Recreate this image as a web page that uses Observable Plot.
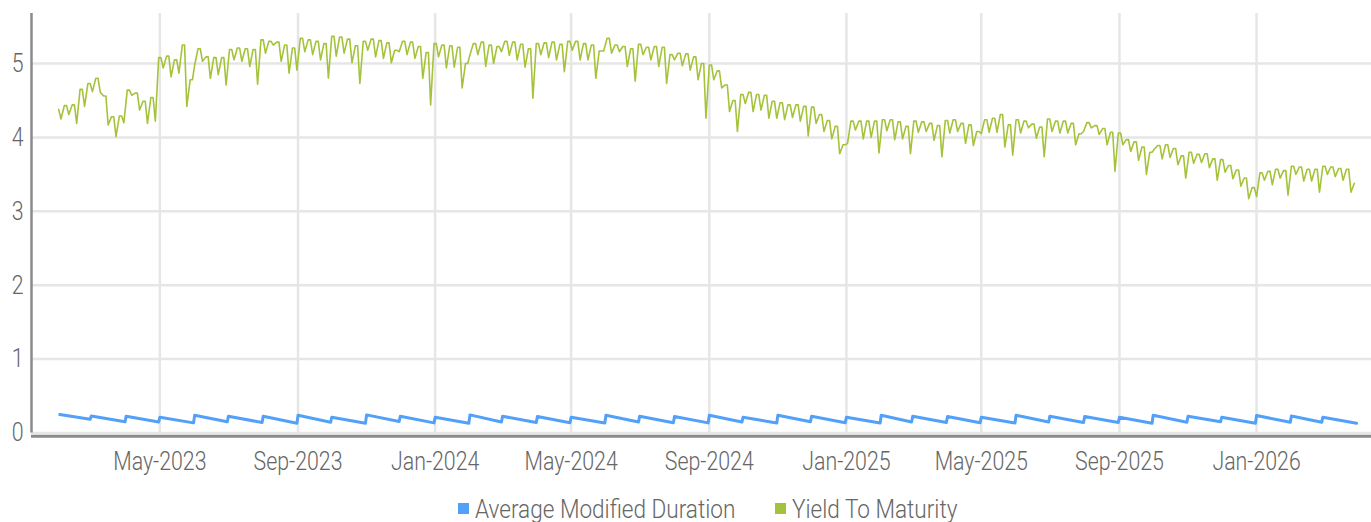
<!DOCTYPE html>
<html><head><meta charset="utf-8">
<script src="https://cdn.jsdelivr.net/npm/d3@7"></script>
<script src="https://cdn.jsdelivr.net/npm/@observablehq/plot@0.6"></script>
<style>
body{margin:0;background:#fff;}
#chart{position:relative;width:1371px;height:522px;font-family:Roboto,'Liberation Sans',sans-serif;font-weight:300;color:#666;}
#legend{position:absolute;top:496px;left:458px;display:flex;align-items:flex-start;font-size:26px;line-height:26px;white-space:nowrap;}
#legend .sw{width:11px;height:11px;margin-top:7px;margin-right:6px;flex:none;}
#legend .item{display:flex;align-items:flex-start;}
#legend .tx{display:inline-block;transform:scaleX(0.868);transform-origin:0 0;}
</style></head>
<body><div id="chart"></div>
<script>
// ---- data ----
const yTicks = [0, 1, 2, 3, 4, 5];
const xTickDates = ["2023-05-01","2023-09-01","2024-01-01","2024-05-01","2024-09-01","2025-01-01","2025-05-01","2025-09-01","2026-01-01"];
const seriesNames = ["Average Modified Duration", "Yield To Maturity"];
const seriesColors = ["#53a0f8", "#a5c33a"];

// Average Modified Duration: value at start and end of each month
const durMonths = ["2023-02","2023-03","2023-04","2023-05","2023-06","2023-07","2023-08","2023-09","2023-10","2023-11","2023-12",
  "2024-01","2024-02","2024-03","2024-04","2024-05","2024-06","2024-07","2024-08","2024-09","2024-10","2024-11","2024-12",
  "2025-01","2025-02","2025-03","2025-04","2025-05","2025-06","2025-07","2025-08","2025-09","2025-10","2025-11","2025-12",
  "2026-01","2026-02","2026-03"];
const durStartVals = [0.250,0.231,0.226,0.213,0.240,0.226,0.227,0.240,0.213,0.245,0.227,
  0.213,0.245,0.227,0.222,0.213,0.240,0.227,0.222,0.240,0.213,0.240,0.227,
  0.213,0.240,0.227,0.222,0.213,0.240,0.227,0.222,0.213,0.240,0.227,0.213,
  0.236,0.231,0.213];
const durEndVals = [0.186,0.151,0.149,0.137,0.151,0.142,0.133,0.146,0.133,0.155,0.137,
  0.133,0.150,0.142,0.140,0.135,0.150,0.140,0.137,0.148,0.135,0.152,0.140,
  0.135,0.150,0.142,0.140,0.135,0.150,0.142,0.142,0.133,0.146,0.151,0.133,
  0.146,0.146,0.133];

// Yield To Maturity: weekly level and weekly dip
const ytmStart = "2023-01-31";
const ytmFirstDip = "2023-02-02";
const ytmLevel = [4.38,4.43,4.44,4.65,4.73,4.80,4.56,4.28,4.29,4.64,
  4.60,4.49,4.54,5.08,5.10,5.05,5.25,4.78,5.20,5.09,
  5.08,5.08,5.19,5.21,5.20,5.19,5.32,5.30,5.29,5.25,
  5.21,5.34,5.32,5.30,5.27,5.37,5.36,5.33,5.24,5.30,
  5.33,5.31,5.28,5.18,5.30,5.29,5.23,5.15,5.27,5.25,
  5.24,5.22,5.00,5.27,5.29,5.25,5.23,5.30,5.29,5.26,
  5.20,5.27,5.28,5.29,5.26,5.30,5.30,5.27,5.25,5.17,
  5.34,5.25,5.23,5.20,5.26,5.22,5.23,5.22,5.12,5.14,
  5.13,5.09,5.00,4.98,4.90,4.71,4.50,4.58,4.61,4.58,
  4.57,4.49,4.47,4.44,4.44,4.42,4.41,4.31,4.23,4.15,
  3.90,4.22,4.22,4.22,4.22,4.24,4.24,4.21,4.15,4.22,
  4.21,4.19,4.16,4.23,4.24,4.19,4.17,4.08,4.24,4.26,
  4.31,4.17,4.24,4.22,4.18,4.14,4.25,4.22,4.22,4.19,
  4.05,4.20,4.16,4.12,4.07,4.06,3.97,3.94,3.87,3.80,
  3.89,3.90,3.85,3.75,3.80,3.77,3.78,3.71,3.70,3.62,
  3.56,3.45,3.32,3.52,3.54,3.57,3.55,3.61,3.60,3.57,
  3.57,3.61,3.60,3.58,3.57];
const ytmDip = [4.25,4.31,4.19,4.42,4.62,4.61,4.17,4.01,4.20,4.57,
  4.37,4.19,4.22,4.94,4.82,4.87,4.42,4.98,5.03,4.80,
  4.85,4.71,5.05,5.03,4.96,4.72,5.14,5.25,5.03,4.87,
  4.91,5.16,5.12,5.05,4.80,5.10,5.14,5.01,4.73,5.18,
  5.09,5.07,5.01,5.16,5.12,5.07,4.80,4.44,5.09,4.94,
  4.95,4.67,5.12,5.12,4.96,5.00,5.16,5.11,5.05,4.95,
  4.53,5.12,5.08,5.05,4.89,5.18,5.05,5.05,4.80,5.17,
  5.14,5.16,4.96,4.76,5.12,5.05,4.96,4.73,5.05,4.97,
  4.91,4.78,4.26,4.78,4.67,4.35,4.08,4.46,4.35,4.37,
  4.26,4.26,4.24,4.27,4.22,4.02,4.19,4.08,3.98,3.78,
  3.92,4.10,3.98,4.00,3.79,4.09,3.97,3.98,3.78,4.07,
  4.08,3.96,3.74,4.06,4.08,3.92,3.89,4.05,4.07,4.07,
  3.87,3.76,4.06,4.13,3.99,3.74,4.08,4.06,4.06,3.90,
  4.08,4.13,4.04,3.90,3.54,3.90,3.81,3.69,3.50,3.84,
  3.71,3.73,3.63,3.45,3.65,3.66,3.59,3.42,3.53,3.44,
  3.34,3.17,3.20,3.42,3.36,3.45,3.22,3.50,3.41,3.41,
  3.26,3.50,3.47,3.42,3.26];
const ytmLastDate = "2026-03-29";
const ytmLastValue = 3.38;

// ---- build tables ----
const utc = s => new Date(s + "T00:00:00Z");
const durData = [];
durMonths.forEach((m, i) => {
  const start = utc(m + "-01");
  const end = d3.utcDay.offset(d3.utcMonth.offset(start, 1), -1);
  durData.push({date: start, value: durStartVals[i]});
  durData.push({date: end, value: durEndVals[i]});
});
const ytmData = [];
const firstDip = utc(ytmFirstDip), startD = utc(ytmStart);
const nW = Math.min(ytmLevel.length, ytmDip.length);
for (let i = 0; i < nW; i++) {
  const dip = d3.utcDay.offset(firstDip, 7 * i);
  let a = d3.utcDay.offset(dip, -4);
  let b = d3.utcDay.offset(dip, -2);
  if (a < startD) a = startD;
  if (b < startD) b = startD;
  ytmData.push({date: a, value: ytmLevel[i]});
  ytmData.push({date: b, value: ytmLevel[i]});
  ytmData.push({date: dip, value: ytmDip[i]});
}
ytmData.push({date: utc(ytmLastDate), value: ytmLastValue});

const xTicks = xTickDates.map(utc);
const x0 = new Date("2023-01-06T19:00:00Z"), x1 = new Date("2026-04-13T07:00:00Z");
const yTop = 5.677;
const font = "Roboto,'Liberation Sans',sans-serif";

const chart = Plot.plot({
  width: 1371, height: 490,
  marginLeft: 31, marginRight: 0, marginTop: 13, marginBottom: 53.5,
  insetBottom: 4,
  style: {fontFamily: font, fontSize: "26px", fontWeight: 300, color: "#666", background: "#fff", overflow: "visible"},
  x: {type: "utc", domain: [x0, x1]},
  y: {domain: [0, yTop]},
  marks: [
    Plot.ruleY(yTicks, {stroke: "#e6e6e6", strokeWidth: 2.5}),
    Plot.ruleX(xTicks, {y1: 0, y2: yTop, stroke: "#e6e6e6", strokeWidth: 2.5}),
    Plot.ruleX([x0], {y1: 0, y2: yTop, stroke: "#8a8a8a", strokeWidth: 2.5}),
    Plot.ruleY([-0.045], {stroke: "#8a8a8a", strokeWidth: 3}),
    Plot.axisY({ticks: yTicks, tickSize: 0, tickPadding: 8, fontSize: 26, fill: "#666", tickFormat: d3.format("d"), label: null}),
    Plot.axisX({ticks: xTicks, tickSize: 0, tickPadding: 15, fontSize: 26, fill: "#666", tickFormat: d3.utcFormat("%b-%Y"), label: null}),
    Plot.line(durData, {x: "date", y: "value", stroke: seriesColors[0], strokeWidth: 3}),
    Plot.line(ytmData, {x: "date", y: "value", stroke: seriesColors[1], strokeWidth: 1.6})
  ]
});
const root = document.getElementById("chart");
root.appendChild(chart);
// condense tick label glyphs horizontally (narrow face), keeping their anchors
chart.querySelectorAll('g[aria-label$="tick label"] text').forEach(t => {
  const L = t.getComputedTextLength();
  if (L > 0) {
    t.setAttribute("textLength", (L * 0.82).toFixed(2));
    t.setAttribute("lengthAdjust", "spacingAndGlyphs");
  }
});
const legend = document.createElement("div");
legend.id = "legend";
seriesNames.forEach((n, i) => {
  const it = document.createElement("div"); it.className = "item";
  const sw = document.createElement("div"); sw.className = "sw"; sw.style.background = seriesColors[i];
  const tx = document.createElement("span"); tx.className = "tx"; tx.textContent = n;
  it.appendChild(sw); it.appendChild(tx); legend.appendChild(it);
});
root.appendChild(legend);
const items = legend.querySelectorAll(".item");
items.forEach((it, i) => {
  const tx = it.querySelector(".tx");
  const w = tx.getBoundingClientRect().width;
  it.style.width = (11 + 6 + w + (i < items.length - 1 ? 40 : 0)) + "px";
});
</script></body></html>
